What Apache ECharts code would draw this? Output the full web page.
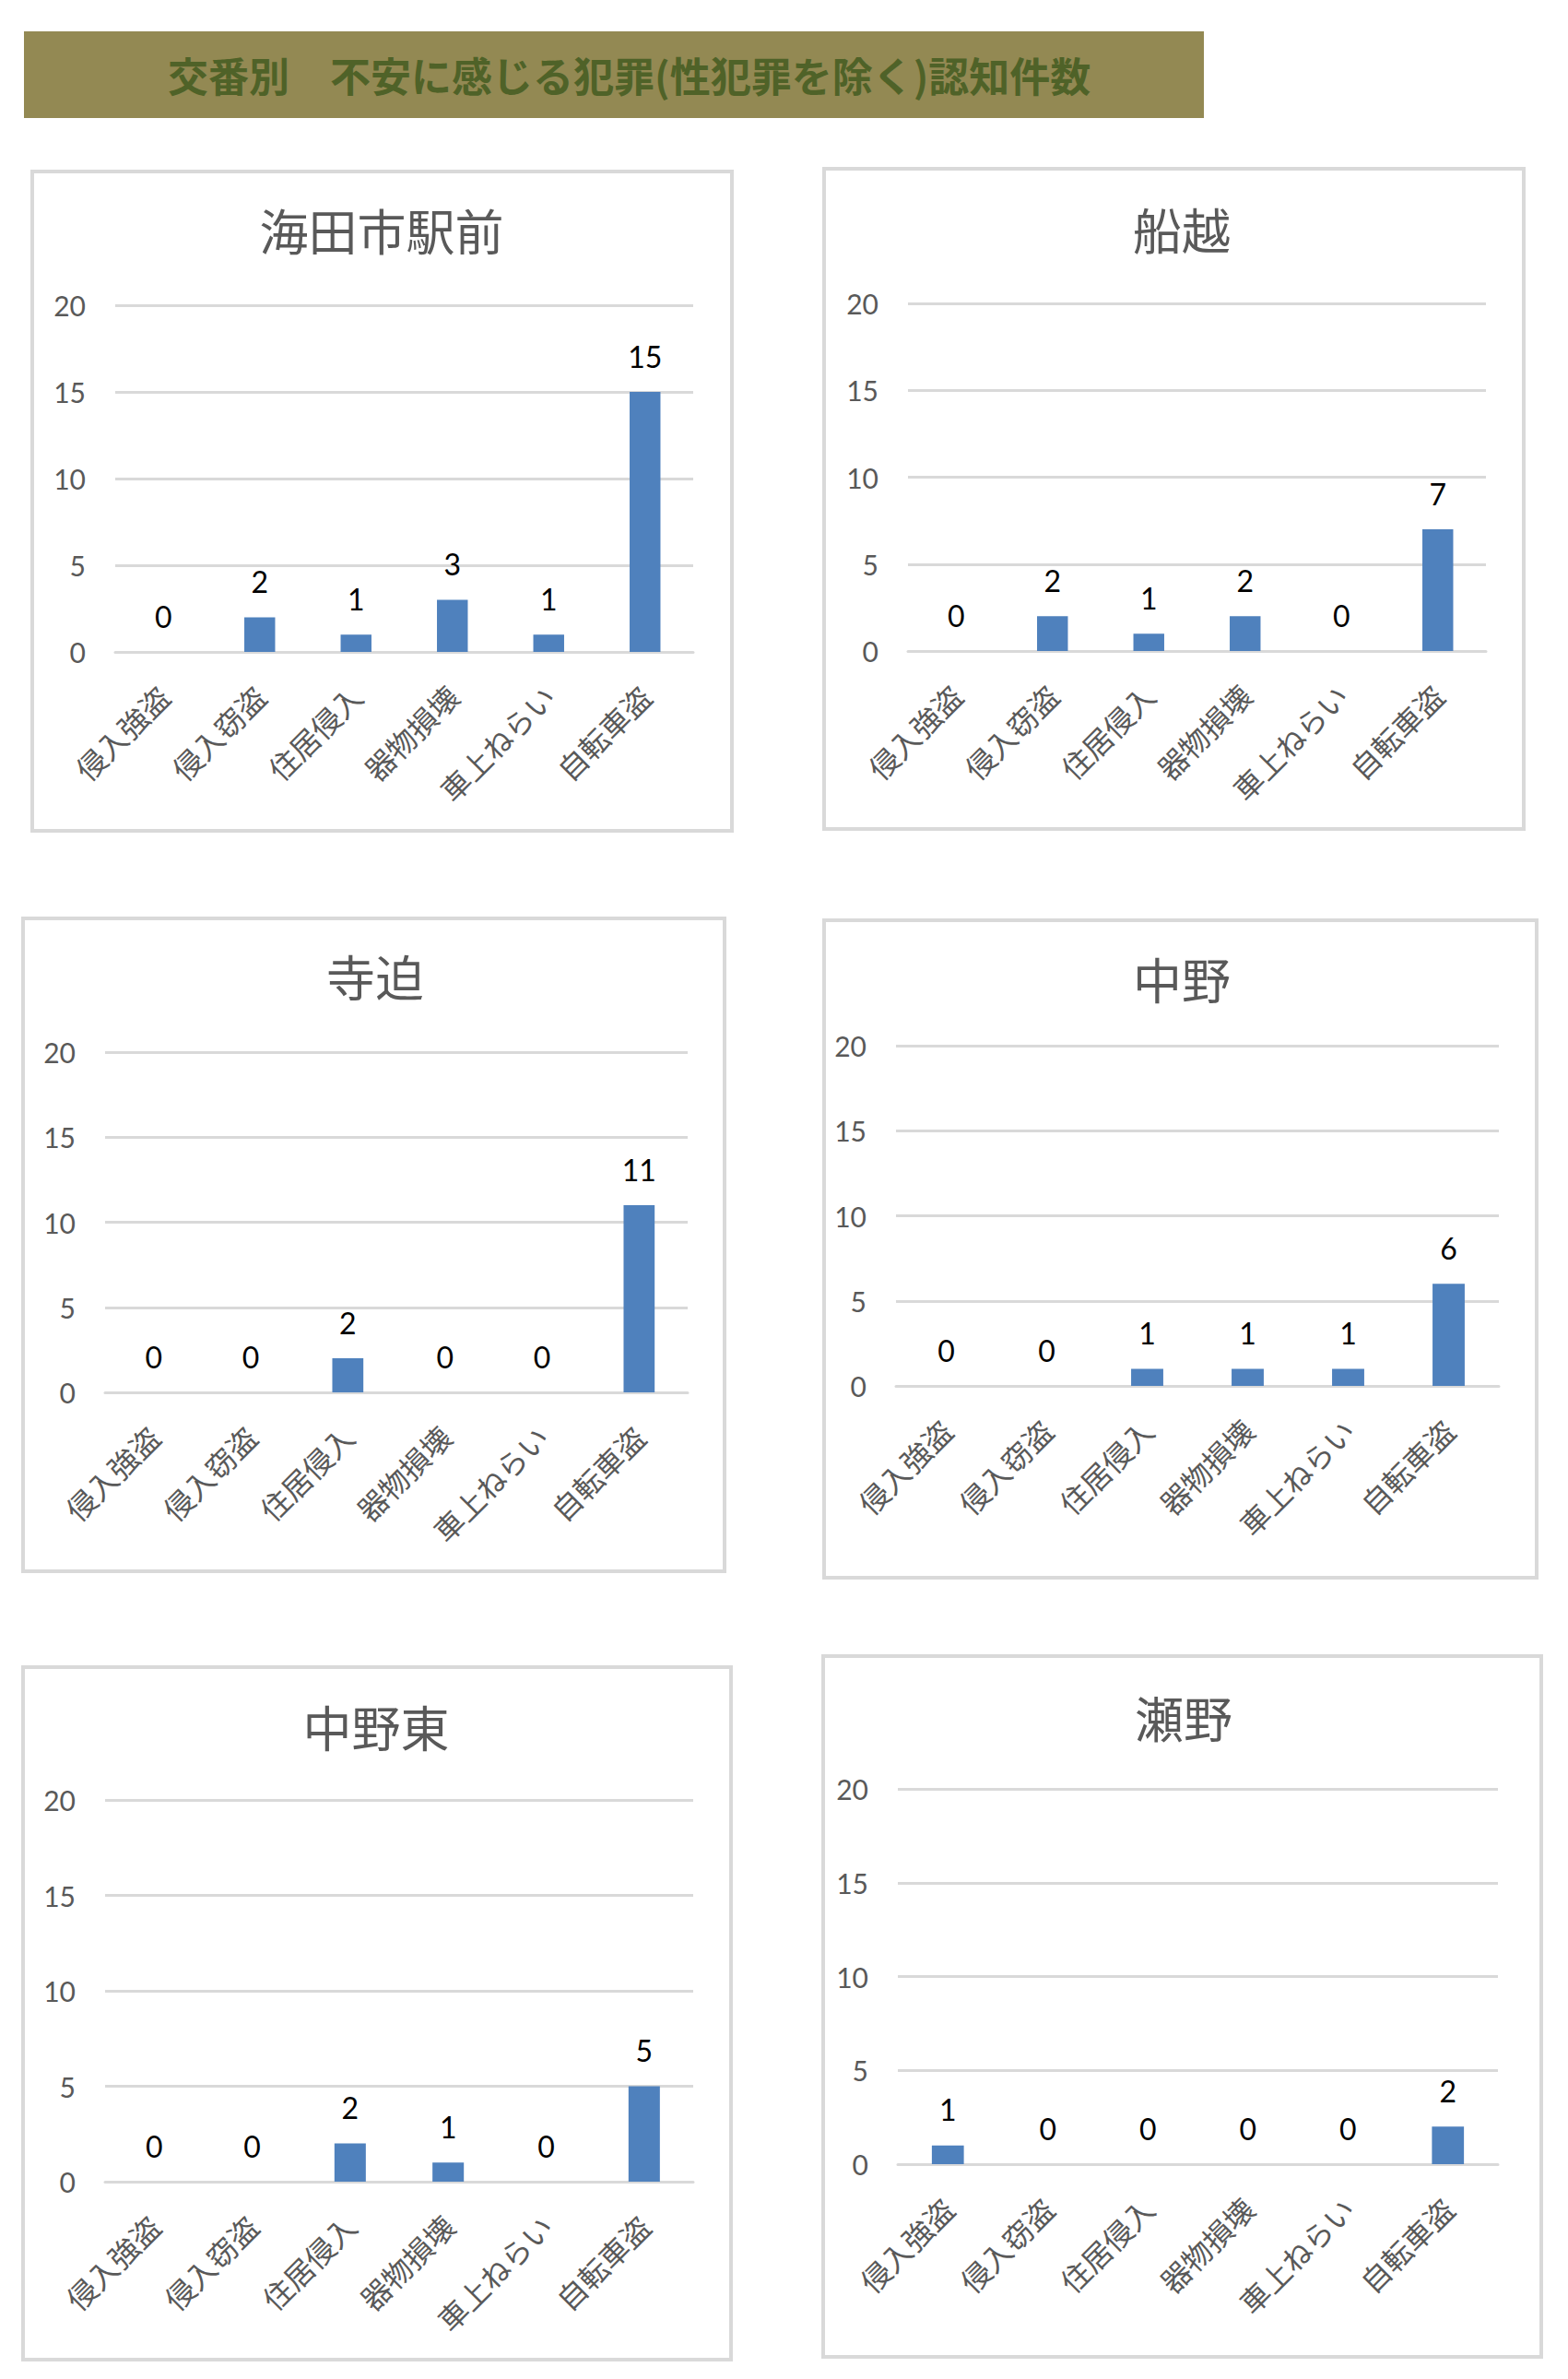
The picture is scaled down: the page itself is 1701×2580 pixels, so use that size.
<!DOCTYPE html>
<html>
<head>
<meta charset="utf-8">
<script src="https://cdn.jsdelivr.net/npm/echarts@6/dist/echarts.min.js"></script>
<style>
  html, body { margin: 0; padding: 0; background: #ffffff; }
  #chart { width: 1701px; height: 2580px; }
</style>
</head>
<body>
<div id="chart"></div>
<script>
// ---- data ----
const pageTitle = '交番別　不安に感じる犯罪(性犯罪を除く)認知件数';
const categories = ['侵入強盗', '侵入窃盗', '住居侵入', '器物損壊', '車上ねらい', '自転車盗'];
const stationNames = ['海田市駅前', '船越', '寺迫', '中野', '中野東', '瀬野'];
const kaitaichiEkimae = [0, 2, 1, 3, 1, 15];
const funakoshi = [0, 2, 1, 2, 0, 7];
const terasako = [0, 0, 2, 0, 0, 11];
const nakano = [0, 0, 1, 1, 1, 6];
const nakanoHigashi = [0, 0, 2, 1, 0, 5];
const seno = [1, 0, 0, 0, 0, 2];
const stationValues = [kaitaichiEkimae, funakoshi, terasako, nakano, nakanoHigashi, seno];
const yMin = 0, yMax = 20, yStep = 5;

// ---- layout (pixels) ----
const panels = [
  { box: [35, 186, 759, 715], grid: [125, 331, 627, 376], title: [414, 249] },
  { box: [894, 183, 759, 716], grid: [985, 329, 627, 377], title: [1282, 248] },
  { box: [25, 996, 761, 708], grid: [114, 1141, 632, 369], title: [407, 1058] },
  { box: [894, 998, 773, 713], grid: [972, 1134, 654, 369], title: [1282, 1061] },
  { box: [25, 1808, 768, 751], grid: [114, 1952, 638, 414], title: [408, 1872] },
  { box: [893, 1796, 779, 760], grid: [974, 1940, 651, 407], title: [1284, 1862] }
];

const numFont = 'Lato, "Open Sans", "Noto Sans", sans-serif';
const cjkFont = '"Noto Sans CJK JP", "Noto Sans", sans-serif';

const chart = echarts.init(document.getElementById('chart'), null, { renderer: 'svg' });

const grids = [], xAxes = [], yAxes = [], series = [];
const graphics = [
  { type: 'rect', shape: { x: 26, y: 34, width: 1280, height: 94 }, style: { fill: '#938953' }, z: 0 },
  { type: 'text', x: 182, y: 81, style: { text: pageTitle, fill: '#4F6228',
      font: 'bold 44px ' + cjkFont, textAlign: 'left', textVerticalAlign: 'middle' }, z: 1 }
];

panels.forEach((p, i) => {
  graphics.push({ type: 'rect', shape: { x: p.box[0], y: p.box[1], width: p.box[2], height: p.box[3] },
    style: { fill: '#ffffff', stroke: '#D9D9D9', lineWidth: 4 }, z: -10 });
  graphics.push({ type: 'text', x: p.title[0], y: p.title[1],
    style: { text: stationNames[i], fill: '#595959', font: '53px ' + cjkFont,
      textAlign: 'center', textVerticalAlign: 'middle' }, z: 1 });
  grids.push({ left: p.grid[0], top: p.grid[1], width: p.grid[2], height: p.grid[3],
    containLabel: false, outerBoundsMode: 'none' });
  xAxes.push({
    type: 'category', gridIndex: i, data: categories,
    axisLine: { show: true, lineStyle: { color: '#D9D9D9', width: 3 } },
    axisTick: { show: false },
    axisLabel: { rotate: 45, margin: 42, color: '#595959', fontSize: 32, fontFamily: cjkFont, interval: 0 }
  });
  yAxes.push({
    type: 'value', gridIndex: i, min: yMin, max: yMax, interval: yStep,
    axisLine: { show: false }, axisTick: { show: false },
    splitLine: { show: true, lineStyle: { color: '#D9D9D9', width: 3 } },
    axisLabel: { margin: 32, color: '#595959', fontSize: 30, fontFamily: numFont }
  });
  series.push({
    type: 'bar', xAxisIndex: i, yAxisIndex: i, data: stationValues[i],
    barWidth: '32%',
    itemStyle: { color: '#4F81BD' },
    label: { show: true, position: 'top', distance: 23, color: '#000000', fontSize: 32, fontFamily: numFont },
    animation: false
  });
});

chart.setOption({
  animation: false,
  backgroundColor: '#ffffff',
  grid: grids,
  xAxis: xAxes,
  yAxis: yAxes,
  series: series,
  graphic: { elements: graphics }
});
</script>
</body>
</html>
